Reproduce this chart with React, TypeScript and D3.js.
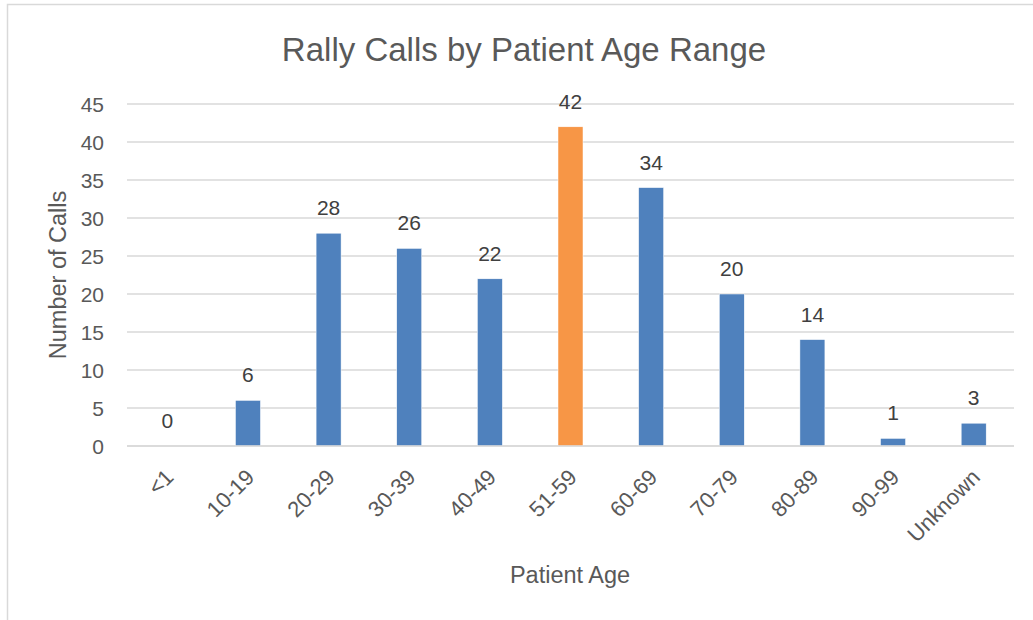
import React from "react";
import * as d3 from "d3";

const categories = ["<1", "10-19", "20-29", "30-39", "40-49", "51-59", "60-69", "70-79", "80-89", "90-99", "Unknown"];
const calls = [0, 6, 28, 26, 22, 42, 34, 20, 14, 1, 3];
const highlighted = ["51-59"];
const yTicks = [0, 5, 10, 15, 20, 25, 30, 35, 40, 45];

const W = 1033;
const H = 620;
const FONT = "'Liberation Sans', Arial, sans-serif";
const TXT = "#595959";

export default function App() {
  const left = 127, right = 1014, top = 104, bottom = 446;
  const x = d3.scaleBand<string>().domain(categories).range([left, right]).paddingInner(0.69).paddingOuter(0.345);
  const y = d3.scaleLinear().domain([0, 45]).range([bottom, top]);
  const xc = (c: string) => (x(c) as number) + x.bandwidth() / 2;

  return (
    <svg width={W} height={H} style={{ position: "absolute", left: 0, top: 0, background: "#fff" }} fontFamily={FONT}>
      <rect x={0} y={0} width={W} height={H} fill="#fff" />
      <rect x={7.5} y={4.5} width={W + 20} height={H + 20} fill="none" stroke="#d9d9d9" strokeWidth={1.5} />
      <text x={524} y={61} textAnchor="middle" fontSize={33} fill={TXT}>Rally Calls by Patient Age Range</text>
      {yTicks.map((t) => (
        <g key={t}>
          <line x1={left} x2={right} y1={y(t)} y2={y(t)} stroke="#d9d9d9" strokeWidth={1.5} />
          <text x={104} y={y(t)} dy="0.36em" textAnchor="end" fontSize={21} fill={TXT}>{t}</text>
        </g>
      ))}
      {categories.map((c, i) => (
        <g key={c}>
          <rect x={x(c)} y={y(calls[i])} width={x.bandwidth()} height={bottom - y(calls[i])}
            fill={highlighted.includes(c) ? "#F79646" : "#4F81BD"} stroke="#fff" strokeWidth={0.5} />
          <text x={xc(c)} y={y(calls[i]) - 18} textAnchor="middle" fontSize={21} fill="#404040">{calls[i]}</text>
          <text transform={`translate(${xc(c) + 2},${bottom + 27}) rotate(-45)`} textAnchor="end" dy="0.36em" fontSize={22} fill={TXT}>{c}</text>
        </g>
      ))}
      <line x1={left} x2={right} y1={bottom} y2={bottom} stroke="#d9d9d9" strokeWidth={1.5} />
      <text transform={`translate(58,275) rotate(-90)`} textAnchor="middle" dy="0.36em" fontSize={23.5} fill={TXT}>Number of Calls</text>
      <text x={570} y={575} textAnchor="middle" dy="0.36em" fontSize={23.5} fill={TXT}>Patient Age</text>
    </svg>
  );
}
